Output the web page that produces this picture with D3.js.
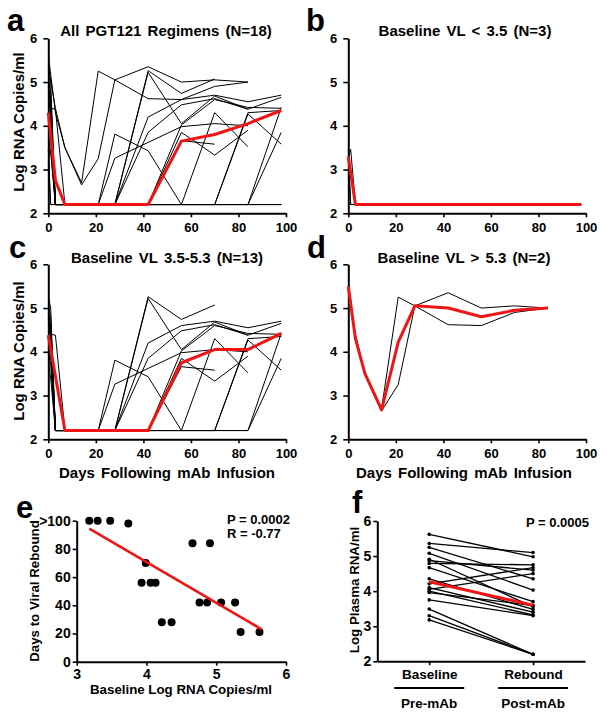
<!DOCTYPE html>
<html><head><meta charset="utf-8">
<script src="https://cdn.jsdelivr.net/npm/d3@7"></script>
<style>
body{margin:0;background:#fff;}
svg{display:block;font-family:"Liberation Sans",Arial,Helvetica,sans-serif;font-weight:bold;}
</style></head><body>
<svg id="chart" width="607" height="717"></svg>
<script>
// ---------------- DATA ----------------
const days = [0, 1, 3, 7, 14, 21, 28, 42, 56, 70, 84, 98];
const dayTicks = [0, 20, 40, 60, 80, 100];
const logTicks = [2, 3, 4, 5, 6];

// baseline VL < 3.5 (N=3)
const lowAnimals = [
  [3.18, 2.2, 2.2, 2.2, 2.2, 2.2, 2.2, 2.2, 2.2, 2.2, 2.2, 2.2],
  [3.30, 3.46, 2.2, 2.2, 2.2, 2.2, 2.2, 2.2, 2.2, 2.2, 2.2, 2.2],
  [3.48, 2.2, 2.2, 2.2, 2.2, 2.2, 2.2, 2.2, 2.2, 2.2, 2.2, 2.2]
];
// baseline VL 3.5-5.3 (N=13)
const midAnimals = [
  [3.75, 3.40, 2.2, 2.2, 2.2, 2.2, 2.2, 2.2, 2.2, 2.2, 2.2, 3.85],
  [4.00, 3.70, 2.2, 2.2, 2.2, 2.2, 2.2, 2.2, 2.2, 4.30, 3.52, null],
  [3.93, 4.20, 2.2, 2.2, 2.2, 2.2, 2.2, 2.2, 3.66, 3.58, null, null],
  [4.07, 4.40, 4.38, 2.2, 2.2, 2.2, 2.2, 2.2, 3.85, 3.33, 3.90, null],
  [4.13, 3.95, 2.2, 2.2, 2.2, 2.2, 2.2, 2.2, 4.02, 4.60, 4.42, 4.40],
  [4.21, 4.00, 2.2, 2.2, 2.2, 2.2, 3.81, 3.43, 2.2, 2.2, 2.2, 4.42],
  [4.35, 4.10, 2.2, 2.2, 2.2, 2.2, 3.26, 3.62, 3.98, 4.05, 4.00, null],
  [4.66, 4.30, 2.2, 2.2, 2.2, 2.2, 2.2, 2.2, 2.2, 2.2, 4.30, 4.35],
  [4.91, 4.60, 2.2, 2.2, 2.2, 2.2, 2.2, 2.2, 2.2, 2.2, 4.27, 3.58],
  [4.76, 4.50, 2.2, 2.2, 2.2, 2.2, 2.2, 5.26, 4.74, 5.07, null, null],
  [4.87, 4.60, 2.2, 2.2, 2.2, 2.2, 2.2, 5.22, 4.05, 4.68, 4.38, null],
  [5.07, 4.80, 2.2, 2.2, 2.2, 2.2, 2.2, 4.20, 4.60, 4.70, 4.55, 4.70],
  [5.27, 5.00, 2.2, 2.2, 2.2, 2.2, 2.2, 3.85, 4.48, 4.62, 4.38, 4.65]
];
// baseline VL > 5.3 (N=2)
const highAnimals = [
  [5.62, null, 4.30, 3.50, 2.70, 5.25, 5.05, 5.35, 5.00, 5.05, 5.00, null],
  [5.35, null, 4.40, 3.50, 2.65, 3.25, 5.05, 4.62, 4.60, 4.90, 5.00, null]
];

// red summary lines
const redADays = [0, 3, 7, 14, 21, 28, 42, 56, 70, 84, 98];
const redAVals = [4.30, 2.75, 2.2, 2.2, 2.2, 2.2, 2.2, 3.65, 3.80, 4.05, 4.35];
const redBDays = [0, 3, 98];
const redBVals = [3.30, 2.2, 2.2];
const redCDays = [0, 7, 14, 21, 28, 42, 56, 70, 84, 98];
const redCVals = [4.38, 2.2, 2.2, 2.2, 2.2, 2.2, 3.75, 4.05, 4.05, 4.42];
const redDDays = [0, 3, 7, 14, 21, 28, 42, 56, 70, 84];
const redDVals = [5.50, 4.30, 3.50, 2.67, 4.22, 5.05, 5.00, 4.80, 4.95, 5.00];

// panel e: baseline log VL vs days to rebound
const eBaseline = [3.18, 3.30, 3.48, 3.74, 3.99, 3.93, 4.06, 4.13, 4.22, 4.36, 4.66, 4.91, 4.76, 4.87, 5.07, 5.27, 5.35, 5.62];
const eDays     = [100, 100, 100, 98, 70, 56, 56, 56, 28, 28, 84, 84, 42, 42, 42, 42, 21, 21];
const eFitX = [3.18, 5.65];
const eFitY = [94.3, 23.0];
const eXTicks = [3, 4, 5, 6];
const eYTicks = [0, 20, 40, 60, 80, 100];
const eYTickLabels = ["0", "20", "40", "60", "80", ">100"];

// panel f: baseline vs rebound
const fCats = ["Baseline", "Rebound"];
const fSub = ["Pre-mAb", "Post-mAb"];
const fBase    = [5.62, 5.36, 5.25, 5.08, 4.91, 4.87, 4.79, 4.67, 4.35, 4.21, 4.10, 4.05, 4.00, 3.96, 3.75, 3.49, 3.30, 3.18];
const fRebound = [4.98, 5.10, 4.35, 4.03, 3.55, 4.60, 4.75, 3.70, 3.48, 4.67, 3.40, 4.50, 3.32, 3.59, 3.30, 2.20, 2.20, 2.20];
const fMean = [4.27, 3.60];

// ---------------- DRAW ----------------
const svg = d3.select("#chart");
const RED = "#f01414";
const intFmt = d3.format("d");

function styleAxis(sel, fs) {
  sel.selectAll(".domain").attr("stroke", "#000").attr("stroke-width", 2);
  sel.selectAll(".tick line").attr("stroke", "#000").attr("stroke-width", 1.6);
  sel.selectAll("text").attr("font-size", fs).attr("font-weight", "bold")
     .attr("fill", "#000").attr("font-family", "Liberation Sans, Arial, sans-serif");
}

function addText(t, x, y, fs, anchor, rot) {
  const el = svg.append("text").text(t).attr("font-size", fs).attr("fill", "#000")
    .attr("text-anchor", anchor || "middle");
  if (rot) el.attr("transform", `translate(${x},${y}) rotate(-90)`);
  else el.attr("x", x).attr("y", y);
  return el;
}

function linePanel(o) {
  const x = d3.scaleLinear([0, 100], o.xr);
  const y = d3.scaleLinear([2, 6], o.yr);
  const g = svg.append("g");
  const ax = g.append("g").attr("transform", `translate(${o.xr[0]},0)`)
    .call(d3.axisLeft(y).tickValues(logTicks).tickFormat(intFmt).tickSize(5).tickSizeOuter(0).tickPadding(6));
  styleAxis(ax, 13);
  const bx = g.append("g").attr("transform", `translate(0,${o.yr[0]})`)
    .call(d3.axisBottom(x).tickValues(dayTicks).tickFormat(intFmt).tickSize(4).tickSizeOuter(0).tickPadding(5));
  styleAxis(bx, 13);
  const line = d3.line().x(d => x(d[0])).y(d => y(d[1]));
  o.animals.forEach(vals => {
    const pts = days.map((d, i) => [d, vals[i]]).filter(p => p[1] !== null);
    g.append("path").attr("d", line(pts)).attr("fill", "none")
      .attr("stroke", "#000").attr("stroke-width", 1);
  });
  const rp = o.redDays.map((d, i) => [d, o.redVals[i]]);
  g.append("path").attr("d", line(rp)).attr("fill", "none").attr("stroke", RED)
    .attr("stroke-width", 3).attr("stroke-linejoin", "round");
  addText(o.title, o.titleX, o.titleY, 15, "middle").attr("word-spacing", 2);
  addText(o.letter, o.letterX, o.letterY, 31, "start");
}

const xL = [48.3, 286], xR = [348.3, 586];
const yT = [213.3, 38.3], yB = [439.3, 264.3];

linePanel({xr: xL, yr: yT, animals: lowAnimals.concat(midAnimals, highAnimals),
  redDays: redADays, redVals: redAVals, title: "All PGT121 Regimens (N=18)",
  titleX: 166, titleY: 36, letter: "a", letterX: 7, letterY: 31});
linePanel({xr: xR, yr: yT, animals: lowAnimals, redDays: redBDays, redVals: redBVals,
  title: "Baseline VL < 3.5 (N=3)", titleX: 465, titleY: 36, letter: "b", letterX: 306, letterY: 31});
linePanel({xr: xL, yr: yB, animals: midAnimals, redDays: redCDays, redVals: redCVals,
  title: "Baseline VL 3.5-5.3 (N=13)", titleX: 167, titleY: 263, letter: "c", letterX: 9, letterY: 258});
linePanel({xr: xR, yr: yB, animals: highAnimals, redDays: redDDays, redVals: redDVals,
  title: "Baseline VL > 5.3 (N=2)", titleX: 464, titleY: 263, letter: "d", letterX: 307, letterY: 258});

addText("Log RNA Copies/ml", 24, 122, 15, "middle", true);
addText("Log RNA Copies/ml", 24, 351, 15, "middle", true);
addText("Days Following mAb Infusion", 167, 478, 15, "middle").attr("word-spacing", 2);
addText("Days Following mAb Infusion", 464, 478, 15, "middle").attr("word-spacing", 2);

// panel e
(function () {
  const x = d3.scaleLinear([3, 6], [76.7, 286]);
  const y = d3.scaleLinear([0, 100], [661.7, 520.7]);
  const g = svg.append("g");
  const ax = g.append("g").attr("transform", `translate(${x.range()[0]},0)`)
    .call(d3.axisLeft(y).tickValues(eYTicks).tickFormat((d, i) => eYTickLabels[i])
      .tickSize(4).tickSizeOuter(0).tickPadding(2));
  styleAxis(ax, 14);
  const bx = g.append("g").attr("transform", `translate(0,${y.range()[0]})`)
    .call(d3.axisBottom(x).tickValues(eXTicks).tickFormat(intFmt).tickSize(4).tickSizeOuter(0).tickPadding(3));
  styleAxis(bx, 14);
  g.selectAll("circle.pt").data(eBaseline).join("circle").attr("class", "pt")
    .attr("cx", d => x(d)).attr("cy", (d, i) => y(eDays[i])).attr("r", 4).attr("fill", "#000");
  g.append("line").attr("x1", x(eFitX[0])).attr("y1", y(eFitY[0]))
    .attr("x2", x(eFitX[1])).attr("y2", y(eFitY[1])).attr("stroke", RED).attr("stroke-width", 2.6);
  addText("e", 16, 518, 31, "start");
  addText("Days to Viral Rebound", 39, 591, 13.3, "middle", true);
  addText("Baseline Log RNA Copies/ml", 181, 694, 13.3, "middle");
  addText("P = 0.0002", 290, 524, 13, "end");
  addText("R = -0.77", 227, 538, 13, "start");
})();

// panel f
(function () {
  const x = d3.scalePoint(fCats, [377.3, 585]).padding(0.5);
  const y = d3.scaleLinear([2, 6], [661.3, 521]);
  const g = svg.append("g");
  const ax = g.append("g").attr("transform", `translate(377.3,0)`)
    .call(d3.axisLeft(y).tickValues(logTicks).tickFormat(intFmt).tickSize(4).tickSizeOuter(0).tickPadding(2));
  styleAxis(ax, 14);
  const bx = g.append("g").attr("transform", `translate(0,${y.range()[0]})`)
    .call(d3.axisBottom(x).tickSize(4).tickSizeOuter(0).tickPadding(4));
  styleAxis(bx, 13.5);
  const xb = x(fCats[0]), xr = x(fCats[1]);
  fBase.forEach((b, i) => {
    g.append("line").attr("x1", xb).attr("y1", y(b)).attr("x2", xr).attr("y2", y(fRebound[i]))
      .attr("stroke", "#000").attr("stroke-width", 1.3);
    g.append("circle").attr("cx", xb).attr("cy", y(b)).attr("r", 1.8).attr("fill", "#000");
    g.append("circle").attr("cx", xr).attr("cy", y(fRebound[i])).attr("r", 1.8).attr("fill", "#000");
  });
  g.append("line").attr("x1", xb).attr("y1", y(fMean[0])).attr("x2", xr).attr("y2", y(fMean[1]))
    .attr("stroke", RED).attr("stroke-width", 3);
  fCats.forEach((c, i) => {
    g.append("line").attr("x1", x(c) - 35).attr("x2", x(c) + 35).attr("y1", 688).attr("y2", 688)
      .attr("stroke", "#000").attr("stroke-width", 2);
    addText(fSub[i], x(c), 708, 13.5, "middle");
  });
  addText("f", 352, 513, 31, "start");
  addText("Log Plasma RNA/ml", 359, 590, 13.3, "middle", true);
  addText("P = 0.0005", 589, 527, 13, "end");
})();
</script>
</body></html>
